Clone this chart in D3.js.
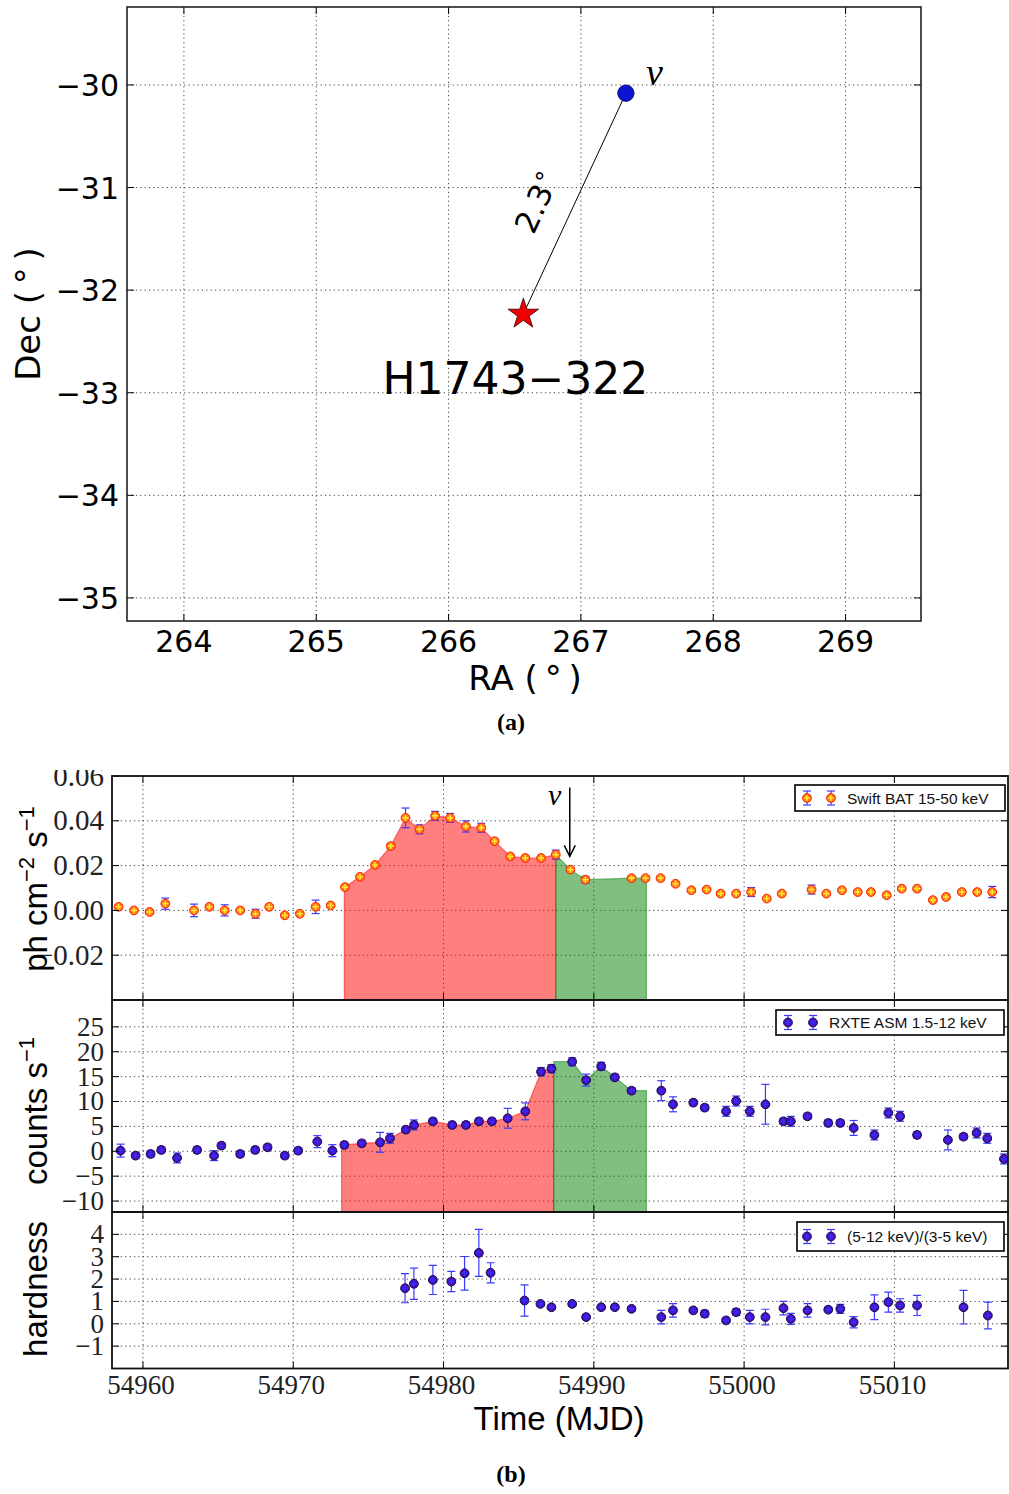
<!DOCTYPE html>
<html><head><meta charset="utf-8">
<script src="https://cdn.jsdelivr.net/npm/d3@7"></script>
<style>body{margin:0;background:#fff}</style>
</head><body>
<script>
// ---------------- DATA ----------------
// Panel (a): sky positions
const raDomain = [263.57, 269.57];
const decDomain = [-35.225, -29.24];
const raTicks = [264, 265, 266, 267, 268, 269];
const decTicks = [-35, -34, -33, -32, -31, -30];
const sourceName = "H1743\u2212322";
const srcRA = 266.565, srcDec = -32.234;
const nuRA = 267.34, nuDec = -30.08;
const sepLabel = "2.3";

// Panel (b): light curves
const mjdDomain = [54957.94, 55017.56];
const mjdTicks = [54960, 54970, 54980, 54990, 55000, 55010];
const nuTime = 54988.4;

const batDomain = [-0.04, 0.06];
const batTicks = [-0.02, 0.00, 0.02, 0.04, 0.06];
const batT = [54958.38,54959.4,54960.44,54961.49,54963.4,54964.42,54965.44,54966.47,54967.49,54968.4,54969.44,54970.44,54971.49,54972.49,
  54973.44,54974.44,54975.44,54976.49,54977.47,54978.4,54979.44,54980.44,54981.49,54982.51,54983.4,54984.44,54985.44,54986.49,54987.47,
  54988.44,54989.44,54992.51,54993.44,54994.44,54995.44,54996.49,54997.51,54998.44,54999.47,55000.47,55001.51,55002.51,
  55004.49,55005.47,55006.51,55007.56,55008.44,55009.49,55010.49,55011.51,55012.56,55013.44,55014.49,55015.51,55016.51];
const batF = [0.0016,0.0,-0.0007,0.003,0.0,0.0016,0.0,0.0,-0.0015,0.0016,-0.0022,-0.0015,0.0016,0.0022,
  0.0104,0.015,0.0203,0.0287,0.0413,0.0362,0.0422,0.0413,0.0375,0.0369,0.0309,0.0241,0.0234,0.0234,0.0249,
  0.0182,0.0137,0.0144,0.0144,0.0144,0.0119,0.009,0.0093,0.0075,0.0075,0.0082,0.0053,0.0075,
  0.0093,0.0075,0.009,0.0082,0.0082,0.0068,0.0097,0.0097,0.0046,0.006,0.0082,0.0082,0.0082];
const batErr = [0.0008,0.0008,0.0008,0.0025,0.0028,0.0008,0.0025,0.0008,0.002,0.0008,0.0008,0.0008,0.003,0.0008,
  0.0008,0.0008,0.0008,0.0012,0.0044,0.002,0.002,0.002,0.0025,0.002,0.0008,0.0008,0.0008,0.0008,0.002,
  0.0008,0.0015,0.0008,0.0008,0.0008,0.0008,0.0008,0.0008,0.0008,0.0008,0.002,0.0008,0.0008,
  0.002,0.0008,0.0008,0.0008,0.0008,0.0008,0.0008,0.0008,0.0008,0.0008,0.0008,0.0008,0.0025];
const batRed = [54973.4, 54987.47];
const batGreen = [54987.47, 54993.5];

const asmDomain = [-12.2, 30.4];
const asmTicks = [-10, -5, 0, 5, 10, 15, 20, 25];
const asmT = [54958.51,54959.51,54960.51,54961.22,54962.27,54963.6,54964.73,54965.22,54966.47,54967.47,54968.29,54969.44,54970.33,54971.6,54972.6,
  54973.4,54974.56,54975.78,54976.44,54977.49,54978.04,54979.29,54980.58,54981.49,54982.36,54983.22,54984.27,54985.44,54986.49,54987.18,
  54988.56,54989.49,54990.49,54991.4,54992.51,
  54994.49,54995.27,54996.62,54997.38,54998.8,54999.47,55000.38,55001.42,55002.62,55003.11,55004.22,55005.6,55006.4,55007.29,55008.67,55009.6,55010.38,55011.51,55013.56,55014.6,55015.47,55016.18,55017.29];
const asmR = [0.13,-0.87,-0.54,0.27,-1.34,0.27,-0.87,1.14,-0.54,0.27,0.8,-0.87,0.13,1.94,0.13,
  1.27,1.6,1.8,2.6,4.35,5.29,6.02,5.29,5.29,6.02,6.02,6.63,8.03,16.0,16.6,
  18.0,14.3,17.07,14.86,12.18,
  12.18,9.44,9.77,8.77,8.03,10.1,8.03,9.44,6.02,6.02,7.03,5.69,5.69,4.69,3.28,7.7,7.03,3.28,2.28,2.94,3.68,2.61,-1.54];
const asmErr = [1.3,0.6,0.6,0.6,1.0,0.6,1.0,0.6,0.6,0.6,0.6,0.6,0.6,1.2,1.2,
  0.6,0.6,2.0,1.0,0.6,1.0,0.6,0.6,0.6,0.6,0.6,2.0,1.7,0.8,0.8,
  0.8,1.2,0.8,0.6,0.6,
  2.0,1.5,0.6,0.6,1.0,1.0,1.0,4.0,0.6,1.0,0.6,0.6,0.6,1.5,1.0,1.0,1.0,0.6,2.0,0.6,1.0,1.0,1.0];
const asmRed = [54973.22, 54987.33];
const asmGreen = [54987.33, 54993.5];

const hrDomain = [-2, 5];
const hrTicks = [-1, 0, 1, 2, 3, 4];
const hrT = [54977.44,54978.03,54979.29,54980.52,54981.4,54982.35,54983.13,54985.39,54986.45,54987.18,54988.56,54989.49,54990.49,54991.4,54992.51,
  54994.49,54995.27,54996.62,54997.38,54998.8,54999.47,55000.38,55001.42,55002.62,55003.11,55004.22,55005.6,55006.4,55007.29,55008.67,55009.6,55010.38,55011.51,55014.6,55016.22];
const hrV = [1.59,1.79,1.96,1.89,2.26,3.17,2.28,1.04,0.89,0.74,0.89,0.3,0.74,0.74,0.67,
  0.3,0.6,0.6,0.45,0.15,0.52,0.3,0.3,0.7,0.22,0.6,0.63,0.67,0.07,0.74,0.97,0.82,0.82,0.74,0.37];
const hrErr = [0.65,0.7,0.65,0.45,0.75,1.05,0.45,0.7,0.1,0.1,0.1,0.1,0.1,0.1,0.1,
  0.3,0.3,0.1,0.15,0.1,0.15,0.3,0.35,0.3,0.25,0.3,0.1,0.2,0.25,0.55,0.45,0.3,0.45,0.75,0.6];

const legendBAT = "Swift BAT 15-50 keV";
const legendASM = "RXTE ASM 1.5-12 keV";
const legendHR = "(5-12 keV)/(3-5 keV)";

// ---------------- DRAWING ----------------
const svg = d3.select("body").append("svg").attr("width",1009).attr("height",1494).style("display","block");
svg.append("rect").attr("width",1009).attr("height",1494).attr("fill","#fff");
const minus = v => (v < 0 ? "\u2212" : "") ;
const SANS_A = "'DejaVu Sans', sans-serif";
const SANS_B = "'Liberation Sans', Arial, sans-serif";
const SERIF = "'Liberation Serif', 'Times New Roman', serif";
const GRID = {stroke:"#444", dash:"1.2,3.2"};

// ===== Panel (a) =====
const A = {l:127, r:921, t:7, b:621};
const xa = d3.scaleLinear().domain(raDomain).range([A.l, A.r]);
const ya = d3.scaleLinear().domain(decDomain).range([A.b, A.t]);
const ga = svg.append("g");
ga.selectAll(".gxa").data(raTicks).join("line")
  .attr("x1",d=>xa(d)).attr("x2",d=>xa(d)).attr("y1",A.t).attr("y2",A.b)
  .attr("stroke",GRID.stroke).attr("stroke-width",1).attr("stroke-dasharray",GRID.dash);
ga.selectAll(".gya").data(decTicks).join("line")
  .attr("y1",d=>ya(d)).attr("y2",d=>ya(d)).attr("x1",A.l).attr("x2",A.r)
  .attr("stroke",GRID.stroke).attr("stroke-width",1).attr("stroke-dasharray",GRID.dash);
// inward ticks
raTicks.forEach(d=>{
  ga.append("line").attr("x1",xa(d)).attr("x2",xa(d)).attr("y1",A.b).attr("y2",A.b-7).attr("stroke","#000");
  ga.append("line").attr("x1",xa(d)).attr("x2",xa(d)).attr("y1",A.t).attr("y2",A.t+7).attr("stroke","#000");
});
decTicks.forEach(d=>{
  ga.append("line").attr("y1",ya(d)).attr("y2",ya(d)).attr("x1",A.l).attr("x2",A.l+7).attr("stroke","#000");
  ga.append("line").attr("y1",ya(d)).attr("y2",ya(d)).attr("x1",A.r).attr("x2",A.r-7).attr("stroke","#000");
});
ga.append("rect").attr("x",A.l).attr("y",A.t).attr("width",A.r-A.l).attr("height",A.b-A.t)
  .attr("fill","none").attr("stroke","#222").attr("stroke-width",1.6);
// tick labels
ga.selectAll(".xla").data(raTicks).join("text")
  .attr("x",d=>xa(d)).attr("y",A.b+31).attr("text-anchor","middle")
  .attr("font-family",SANS_A).attr("font-size",30).text(d=>d);
ga.selectAll(".yla").data(decTicks).join("text")
  .attr("x",A.l-8).attr("y",d=>ya(d)+11).attr("text-anchor","end")
  .attr("font-family",SANS_A).attr("font-size",30).text(d=>minus(d)+Math.abs(d));
// axis titles
ga.append("text").attr("x",525).attr("y",690).attr("text-anchor","middle")
  .attr("font-family",SANS_A).attr("font-size",34).text("RA (\u2009\u00b0\u2009)");
ga.append("text").attr("transform","translate(40,314) rotate(-90)").attr("text-anchor","middle")
  .attr("font-family",SANS_A).attr("font-size",34).text("Dec (\u2009\u00b0\u2009)");
// connecting line
ga.append("line").attr("x1",xa(srcRA)).attr("y1",ya(srcDec)).attr("x2",xa(nuRA)).attr("y2",ya(nuDec))
  .attr("stroke","#000").attr("stroke-width",1);
// separation label
{
  const x1=xa(srcRA), y1=ya(srcDec), x2=xa(nuRA), y2=ya(nuDec);
  const ang = Math.atan2(y2-y1, x2-x1)*180/Math.PI;
  const t = ga.append("text").attr("transform",`translate(${(x1+x2)/2},${(y1+y2)/2}) rotate(${ang})`)
    .attr("x",-14).attr("y",-24).attr("text-anchor","middle")
    .attr("font-family",SANS_A).attr("font-size",31);
  t.append("tspan").text(sepLabel);
  t.append("tspan").attr("font-size",24).attr("dy",-12).text("\u2218");
}
// source star & neutrino dot
ga.append("path").attr("d", d3.symbol(d3.symbolStar, 290)())
  .attr("transform",`translate(${xa(srcRA)},${ya(srcDec)})`)
  .attr("fill","#ee0000").attr("stroke","#330000").attr("stroke-width",0.8);
ga.append("circle").attr("cx",xa(nuRA)).attr("cy",ya(nuDec)).attr("r",8.2)
  .attr("fill","#0a14d2").attr("stroke","#000050").attr("stroke-width",0.8);
ga.append("text").attr("x",xa(nuRA)+20).attr("y",ya(nuDec)-8)
  .attr("font-family",SERIF).attr("font-style","italic").attr("font-size",38).text("\u03bd");
ga.append("text").attr("x",xa(srcRA)-8).attr("y",ya(srcDec)+80).attr("text-anchor","middle")
  .attr("font-family",SANS_A).attr("font-size",44).text(sourceName);
svg.append("text").attr("x",511).attr("y",730).attr("text-anchor","middle")
  .attr("font-family",SERIF).attr("font-weight","bold").attr("font-size",24).text("(a)");

// ===== Panel (b) =====
const B = {l:112, r:1008};
const xb = d3.scaleLinear().domain(mjdDomain).range([B.l, B.r]);
let clipId = 0;

function drawPanel(cfg){
  const g = svg.append("g");
  const y = d3.scaleLinear().domain(cfg.domain).range([cfg.bottom, cfg.top]);
  const id = "clip" + (clipId++);
  svg.append("clipPath").attr("id",id).append("rect")
    .attr("x",B.l).attr("y",cfg.top).attr("width",B.r-B.l).attr("height",cfg.bottom-cfg.top);
  const inner = g.append("g").attr("clip-path",`url(#${id})`);
  // grid
  inner.selectAll(".gx").data(mjdTicks).join("line")
    .attr("x1",d=>xb(d)).attr("x2",d=>xb(d)).attr("y1",cfg.top).attr("y2",cfg.bottom)
    .attr("stroke",GRID.stroke).attr("stroke-width",1).attr("stroke-dasharray",GRID.dash);
  inner.selectAll(".gy").data(cfg.ticks).join("line")
    .attr("y1",d=>y(d)).attr("y2",d=>y(d)).attr("x1",B.l).attr("x2",B.r)
    .attr("stroke",GRID.stroke).attr("stroke-width",1).attr("stroke-dasharray",GRID.dash);
  // fills
  (cfg.fills||[]).forEach(f=>{
    const idx = d3.range(cfg.T.length).filter(i=>cfg.T[i]>=f.range[0]-1e-6 && cfg.T[i]<=f.range[1]+1e-6);
    const pts = [];
    pts.push([xb(f.range[0]), y(cfg.V[idx[0]])]);
    idx.forEach(i=>pts.push([xb(cfg.T[i]), y(cfg.V[i])]));
    pts.push([xb(f.range[1]), y(cfg.V[idx[idx.length-1]])]);
    pts.push([xb(f.range[1]), cfg.bottom+5]);
    pts.push([xb(f.range[0]), cfg.bottom+5]);
    inner.append("path").attr("d", d3.line()(pts)+"Z")
      .attr("fill",f.color).attr("fill-opacity",0.5)
      .attr("stroke",f.color).attr("stroke-opacity",0.5).attr("stroke-width",1.2);
  });
  // arrow
  if (cfg.arrow){
    const ax = xb(cfg.arrow.t), ay0 = y(cfg.arrow.from), ay1 = y(cfg.arrow.to);
    inner.append("line").attr("x1",ax).attr("x2",ax).attr("y1",ay0).attr("y2",ay1).attr("stroke","#000").attr("stroke-width",1.5);
    inner.append("path").attr("d",`M${ax-5.5},${ay1-11} L${ax},${ay1} L${ax+5.5},${ay1-11}`)
      .attr("fill","none").attr("stroke","#000").attr("stroke-width",1.5);
    g.append("text").attr("x",ax-15).attr("y",ay0+18).attr("text-anchor","middle")
      .attr("font-family",SERIF).attr("font-style","italic").attr("font-size",30).text("\u03bd");
  }
  // error bars
  const eb = inner.append("g").attr("stroke","#3a3aff").attr("stroke-width",1.2);
  d3.range(cfg.T.length).forEach(i=>{
    const cx = xb(cfg.T[i]), ylo = y(cfg.V[i]-cfg.E[i]), yhi = y(cfg.V[i]+cfg.E[i]);
    eb.append("line").attr("x1",cx).attr("x2",cx).attr("y1",ylo).attr("y2",yhi);
    eb.append("line").attr("x1",cx-4).attr("x2",cx+4).attr("y1",ylo).attr("y2",ylo);
    eb.append("line").attr("x1",cx-4).attr("x2",cx+4).attr("y1",yhi).attr("y2",yhi);
  });
  // markers
  d3.range(cfg.T.length).forEach(i=>cfg.marker(inner, xb(cfg.T[i]), y(cfg.V[i])));
  // ticks
  mjdTicks.forEach(d=>{
    g.append("line").attr("x1",xb(d)).attr("x2",xb(d)).attr("y1",cfg.bottom).attr("y2",cfg.bottom-7).attr("stroke","#000");
    g.append("line").attr("x1",xb(d)).attr("x2",xb(d)).attr("y1",cfg.top).attr("y2",cfg.top+7).attr("stroke","#000");
  });
  cfg.ticks.forEach(d=>{
    g.append("line").attr("y1",y(d)).attr("y2",y(d)).attr("x1",B.l).attr("x2",B.l+7).attr("stroke","#000");
    g.append("line").attr("y1",y(d)).attr("y2",y(d)).attr("x1",B.r).attr("x2",B.r-7).attr("stroke","#000");
  });
  g.append("rect").attr("x",B.l).attr("y",cfg.top).attr("width",B.r-B.l).attr("height",cfg.bottom-cfg.top)
    .attr("fill","none").attr("stroke","#111").attr("stroke-width",1.8);
  // y tick labels
  const lblG = g.append("g");
  if (cfg.labelClip){
    const cid = "lclip"+(clipId++);
    svg.append("clipPath").attr("id",cid).append("rect").attr("x",0).attr("y",cfg.labelClip).attr("width",B.l).attr("height",800);
    lblG.attr("clip-path",`url(#${cid})`);
  }
  lblG.selectAll("text").data(cfg.ticks).join("text")
    .attr("x",104).attr("y",d=>y(d)+cfg.tickFont*0.33).attr("text-anchor","end")
    .attr("font-family",SERIF).attr("font-size",cfg.tickFont).attr("fill","#222")
    .text(d=>minus(d)+cfg.fmt(Math.abs(d)));
  // legend
  const L = cfg.legend;
  g.append("rect").attr("x",L.x0).attr("y",L.y0).attr("width",L.x1-L.x0).attr("height",L.y1-L.y0)
    .attr("fill","#fff").attr("stroke","#000").attr("stroke-width",1.6);
  const cy = (L.y0+L.y1)/2;
  L.mx.forEach(mx=>{
    g.append("line").attr("x1",mx).attr("x2",mx).attr("y1",cy-7).attr("y2",cy+7).attr("stroke","#3a3aff").attr("stroke-width",1.2);
    g.append("line").attr("x1",mx-4).attr("x2",mx+4).attr("y1",cy-7).attr("y2",cy-7).attr("stroke","#3a3aff").attr("stroke-width",1.2);
    g.append("line").attr("x1",mx-4).attr("x2",mx+4).attr("y1",cy+7).attr("y2",cy+7).attr("stroke","#3a3aff").attr("stroke-width",1.2);
    cfg.marker(g, mx, cy);
  });
  g.append("text").attr("x",L.tx).attr("y",cy+5.5).attr("font-family",SANS_B).attr("font-size",15.5).attr("fill","#111").text(L.text);
  return y;
}

function batMarker(g, x, y){
  g.append("circle").attr("cx",x).attr("cy",y).attr("r",4.4).attr("fill","#ff7a1a").attr("stroke","#ff2200").attr("stroke-width",1);
  g.append("path").attr("d",`M${x-3},${y}H${x+3}M${x},${y-3}V${y+3}`).attr("stroke","#ffe633").attr("stroke-width",1.6);
}
function asmMarker(g, x, y){
  g.append("circle").attr("cx",x).attr("cy",y).attr("r",4.4).attr("fill","#4a0fc0").attr("stroke","#1a0a40").attr("stroke-width",1);
  g.append("path").attr("d",`M${x-3},${y}H${x+3}M${x},${y-3}V${y+3}`).attr("stroke","#3030ff").attr("stroke-width",1.4);
}

drawPanel({top:776, bottom:1000, domain:batDomain, ticks:batTicks, T:batT, V:batF, E:batErr,
  marker:batMarker, tickFont:29, fmt:d=>d.toFixed(2), labelClip:770,
  fills:[{range:batRed,color:"#ff0000"},{range:batGreen,color:"#008000"}],
  arrow:{t:nuTime, from:0.0549, to:0.0241},
  legend:{x0:795,y0:785,x1:1005,y1:811,mx:[807,831],tx:847,text:legendBAT}});
drawPanel({top:1000, bottom:1212, domain:asmDomain, ticks:asmTicks, T:asmT, V:asmR, E:asmErr,
  marker:asmMarker, tickFont:27, fmt:d=>String(d),
  fills:[{range:asmRed,color:"#ff0000"},{range:asmGreen,color:"#008000"}],
  legend:{x0:776,y0:1010,x1:1004,y1:1035,mx:[788,813],tx:829,text:legendASM}});
drawPanel({top:1212, bottom:1368.5, domain:hrDomain, ticks:hrTicks, T:hrT, V:hrV, E:hrErr,
  marker:asmMarker, tickFont:27, fmt:d=>String(d),
  legend:{x0:797,y0:1222,x1:1004,y1:1251,mx:[807,831],tx:847,text:legendHR}});

// x tick labels
svg.selectAll(".xlb").data(mjdTicks).join("text")
  .attr("x",d=>xb(d)-2).attr("y",1394).attr("text-anchor","middle")
  .attr("font-family",SERIF).attr("font-size",27).attr("fill","#222").text(d=>d);
svg.append("text").attr("x",559).attr("y",1430).attr("text-anchor","middle")
  .attr("font-family",SANS_B).attr("font-size",33).text("Time (MJD)");
// y titles
function ytitle(x, yc, parts){
  const t = svg.append("text").attr("transform",`translate(${x},${yc}) rotate(-90)`).attr("text-anchor","middle")
    .attr("font-family",SANS_B).attr("font-size",33);
  parts.forEach(p=>{
    const ts = t.append("tspan").text(p.s);
    if (p.sup) ts.attr("font-size",22).attr("dy",-13);
    if (p.down) ts.attr("dy",13);
  });
}
ytitle(47, 889, [{s:"ph cm"},{s:"\u22122",sup:true},{s:" s",down:true},{s:"\u22121",sup:true}]);
ytitle(47, 1111, [{s:"counts  s"},{s:"\u22121",sup:true}]);
ytitle(47, 1289, [{s:"hardness"}]);
svg.append("text").attr("x",511).attr("y",1482).attr("text-anchor","middle")
  .attr("font-family",SERIF).attr("font-weight","bold").attr("font-size",24).text("(b)");
</script>
</body></html>
